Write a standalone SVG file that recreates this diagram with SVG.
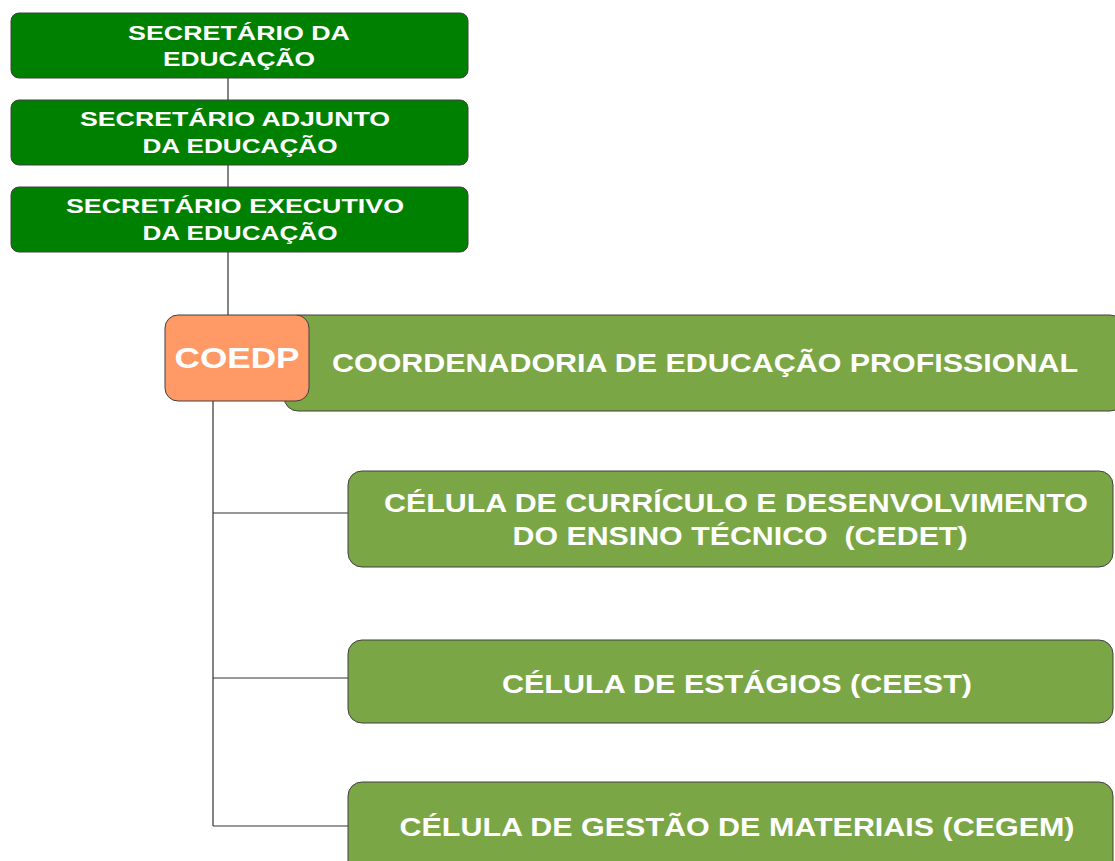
<svg xmlns="http://www.w3.org/2000/svg" width="1115" height="861" viewBox="0 0 1115 861">
<style>
.dg{fill:#008000;stroke:#404040;stroke-width:1}
.lg{fill:#7BA646;stroke:#404040;stroke-width:1}
.or{fill:#FF9966;stroke:#404040;stroke-width:1}
.t{font-family:"Liberation Sans",Arial,sans-serif;font-weight:bold;fill:#fff;text-anchor:middle}
.ts{font-size:21px}
.tl{font-size:26px}
.conn{stroke:#333;stroke-width:1.2;fill:none}
</style>
<rect width="1115" height="861" fill="#fff"/>
<g id="connectors">
<path class="conn" d="M228,78V100M228,165V187M228,252V316"/>
<path class="conn" d="M213,401V826M213,513H348M213,678H348M213,826H348"/>
</g>
<g id="n1">
<rect class="dg" x="11" y="13" width="457" height="65" rx="8"/>
<text class="t ts" x="239" y="40" textLength="222" lengthAdjust="spacingAndGlyphs">SECRETÁRIO DA</text>
<text class="t ts" x="239" y="66" textLength="152" lengthAdjust="spacingAndGlyphs">EDUCAÇÃO</text>
</g>
<g id="n2">
<rect class="dg" x="11" y="100" width="457" height="65" rx="8"/>
<text class="t ts" x="235" y="126" textLength="310" lengthAdjust="spacingAndGlyphs">SECRETÁRIO ADJUNTO</text>
<text class="t ts" x="240" y="153" textLength="195" lengthAdjust="spacingAndGlyphs">DA EDUCAÇÃO</text>
</g>
<g id="n3">
<rect class="dg" x="11" y="187" width="457" height="65" rx="8"/>
<text class="t ts" x="235" y="213" textLength="338" lengthAdjust="spacingAndGlyphs">SECRETÁRIO EXECUTIVO</text>
<text class="t ts" x="240" y="240" textLength="195" lengthAdjust="spacingAndGlyphs">DA EDUCAÇÃO</text>
</g>
<g id="coordenadoria">
<rect class="lg" x="284" y="315" width="840" height="96" rx="14"/>
<text class="t tl" x="705" y="372" textLength="746" lengthAdjust="spacingAndGlyphs">COORDENADORIA DE EDUCAÇÃO PROFISSIONAL</text>
</g>
<g id="coedp">
<rect class="or" x="165" y="315" width="144" height="86" rx="13"/>
<text class="t" x="237" y="368" font-size="30" textLength="125" lengthAdjust="spacingAndGlyphs">COEDP</text>
</g>
<g id="cedet">
<rect class="lg" x="348" y="471" width="765" height="96" rx="14"/>
<text class="t tl" x="736" y="512" textLength="704" lengthAdjust="spacingAndGlyphs">CÉLULA DE CURRÍCULO E DESENVOLVIMENTO</text>
<text class="t tl" x="740" y="545" textLength="455" lengthAdjust="spacingAndGlyphs" xml:space="preserve">DO ENSINO TÉCNICO  (CEDET)</text>
</g>
<g id="ceest">
<rect class="lg" x="348" y="640" width="765" height="83" rx="14"/>
<text class="t tl" x="737" y="693" textLength="470" lengthAdjust="spacingAndGlyphs">CÉLULA DE ESTÁGIOS (CEEST)</text>
</g>
<g id="cegem">
<rect class="lg" x="348" y="782" width="765" height="96" rx="14"/>
<text class="t tl" x="737" y="836" textLength="675" lengthAdjust="spacingAndGlyphs">CÉLULA DE GESTÃO DE MATERIAIS (CEGEM)</text>
</g>
</svg>
